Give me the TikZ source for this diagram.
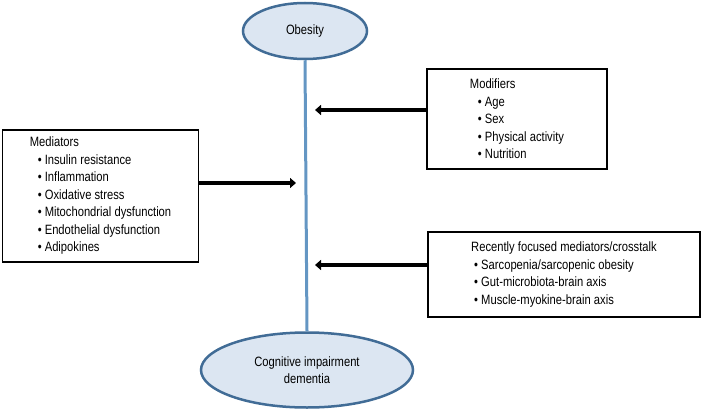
\documentclass[tikz,border=0pt]{standalone}
\usepackage{fontspec}
\setmainfont[FakeStretch=0.83]{Liberation Sans}
\usetikzlibrary{arrows.meta, shapes.geometric}
\definecolor{ovalfill}{RGB}{220,230,242}
\definecolor{ovaledge}{RGB}{65,108,150}
\definecolor{axisblue}{RGB}{100,150,195}
\newcommand{\itm}[1]{\hspace*{8pt}\textbullet~#1}

\begin{document}
\begin{tikzpicture}[x=1pt, y=-1pt, font=\fontsize{13.5}{17.5}\selectfont,
    oval/.style={ellipse, draw=ovaledge, line width=2.5pt, fill=ovalfill, inner sep=0pt, align=center},
    infobox/.style={rectangle, draw, line width=1.5pt, align=left, inner sep=0pt},
    push/.style={line width=4pt, -{Triangle[length=6pt,width=10pt]}}]
		\useasboundingbox (0,0) rectangle (703,412);
		\node[oval, minimum width=124, minimum height=56] (obesity) at (305,31) {Obesity};
		\node[oval, minimum width=212, minimum height=75] (cog) at (307,370) {Cognitive impairment\\dementia};
		
		\node[infobox, minimum width=196, minimum height=132] (med) at (100.5,196)
		{Mediators\\ \itm{Insulin resistance}\\ \itm{Inflammation}\\ \itm{Oxidative stress}\\
		 \itm{Mitochondrial dysfunction}\\ \itm{Endothelial dysfunction}\\ \itm{Adipokines}};
		\node[infobox, minimum width=180, minimum height=100] (mod) at (517,119)
		{Modifiers\\ \itm{Age}\\ \itm{Sex}\\ \itm{Physical activity}\\ \itm{Nutrition}};
		\node[infobox, minimum width=272, minimum height=85] (rec) at (564,274.5)
		{Recently focused mediators/crosstalk\\ \hspace*{-5pt}\itm{Sarcopenia/sarcopenic obesity}\\
		 \hspace*{-5pt}\itm{Gut-microbiota-brain axis}\\ \hspace*{-5pt}\itm{Muscle-myokine-brain axis}};
		
		\coordinate (medtip) at (296,183);
		\coordinate (modtip) at (315,110);
		\coordinate (rectip) at (315,265);
		
		\draw[axisblue, line width=3pt] (obesity.south) -- (cog.north);
		\draw[push] (med.east |- medtip) -- (medtip);
		\draw[push] (mod.west |- modtip) -- (modtip);
		\draw[push] (rec.west |- rectip) -- (rectip);
	\end{tikzpicture}
\end{document}
